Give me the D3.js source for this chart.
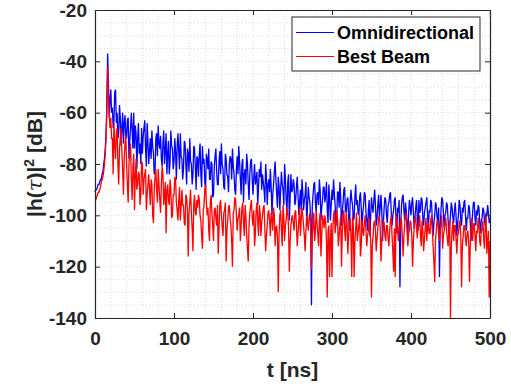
<!DOCTYPE html>
<html><head><meta charset="utf-8">
<script src="https://cdn.jsdelivr.net/npm/d3@7"></script>
<style>
html,body{margin:0;padding:0;background:#fff;}
svg{display:block;font-family:"Liberation Sans",Arial,Helvetica,sans-serif;}
</style></head>
<body>
<script>
// time step of the samples (ns), starting at 0
const tStep = 1;
const seriesNames = ["Omnidirectional", "Best Beam"];
const xTicks = [0, 100, 200, 300, 400, 500];
const yTicks = [-140, -120, -100, -80, -60, -40, -20];

// |h(tau)|^2 in dB, Omnidirectional (one row = 10 ns)
const omni = [
 -91,-90,-90,-89,-88,-88,-87,-86,-86,-84,
 -83,-80,-78,-74,-68,-56,-37,-48,-62,-55,
 -51,-60,-58,-66,-63,-52,-51,-64,-60,-70,
 -68,-57,-62,-73,-66,-60,-72,-64,-61,-69,
 -70,-63,-62,-78,-71,-66,-60,-67,-74,-60,
 -74,-65,-68,-82,-70,-64,-76,-72,-80,-66,
 -76,-69,-66,-63,-74,-81,-64,-71,-80,-75,
 -70,-78,-67,-73,-76,-84,-83,-70,-68,-77,
 -65,-72,-74,-69,-78,-81,-72,-67,-80,-75,
 -68,-84,-76,-71,-84,-79,-67,-73,-74,-82,
 -79,-70,-75,-86,-73,-68,-75,-82,-68,-77,
 -78,-86,-82,-71,-72,-80,-88,-74,-76,-83,
 -70,-79,-80,-88,-84,-73,-74,-81,-90,-77,
 -78,-85,-76,-72,-84,-89,-73,-80,-78,-87,
 -90,-76,-78,-82,-74,-86,-86,-79,-80,-93,
 -92,-81,-77,-74,-83,-88,-88,-79,-75,-84,
 -72,-80,-82,-89,-90,-76,-78,-84,-85,-91,
 -80,-77,-78,-86,-74,-81,-84,-90,-92,-82,
 -77,-84,-73,-79,-86,-92,-80,-78,-95,-84,
 -82,-88,-76,-80,-88,-94,-84,-79,-78,-86,
 -92,-85,-80,-88,-86,-83,-96,-89,-82,-85,
 -79,-90,-84,-87,-90,-95,-80,-85,-96,-88,
 -86,-91,-82,-89,-100,-92,-88,-83,-79,-86,
 -92,-97,-85,-89,-98,-90,-83,-88,-90,-96,
 -80,-86,-94,-99,-87,-84,-102,-93,-84,-91,
 -90,-86,-88,-96,-94,-89,-85,-92,-100,-95,
 -90,-98,-86,-91,-98,-94,-92,-87,-104,-96,
 -89,-93,-95,-101,-135,-97,-92,-88,-87,-95,
 -99,-92,-91,-96,-86,-90,-102,-97,-94,-89,
 -89,-95,-92,-87,-98,-103,-88,-93,-102,-96,
 -90,-94,-86,-92,-96,-104,-100,-91,-91,-97,
 -87,-93,-104,-99,-95,-90,-89,-98,-99,-94,
 -93,-100,-106,-95,-90,-94,-96,-102,-101,-93,
 -88,-96,-94,-99,-100,-93,-91,-97,-105,-99,
 -96,-91,-92,-99,-102,-106,-98,-94,-108,-100,
 -93,-97,-99,-94,-90,-96,-104,-101,-96,-92,
 -101,-97,-92,-98,-110,-103,-97,-93,-94,-100,
 -103,-96,-95,-92,-91,-99,-104,-100,-98,-94,
 -93,-101,-107,-97,-99,-94,-128,-104,-96,-93,
 -92,-98,-102,-95,-98,-103,-108,-99,-94,-97,
 -100,-95,-93,-99,-105,-101,-97,-94,-101,-106,
 -94,-99,-98,-93,-94,-101,-104,-99,-97,-95,
 -93,-100,-106,-98,-99,-94,-95,-102,-108,-103,
 -100,-95,-96,-101,-103,-97,-124,-104,-98,-93,
 -94,-99,-105,-100,-99,-95,-96,-102,-109,-104,
 -100,-95,-97,-101,-103,-98,-95,-100,-108,-103,
 -100,-94,-96,-102,-104,-97,-99,-95,-94,-100,
 -106,-101,-101,-96,-97,-103,-110,-104,-99,-95,
 -95,-101,-104,-98,-100,-96,-97,-103,-107,-102,
 -101,-97,-98,-102,-104,-99,-100,-96,-99,-103,
 -101
];

// |h(tau)|^2 in dB, Best Beam (one row = 10 ns)
const best = [
 -94,-94,-93,-92,-91,-91,-90,-89,-87,-86,
 -85,-83,-80,-76,-70,-60,-42,-55,-60,-66,
 -62,-70,-70,-84,-64,-72,-78,-68,-66,-80,
 -88,-74,-70,-66,-75,-82,-92,-78,-72,-69,
 -80,-88,-95,-80,-76,-72,-86,-94,-82,-76,
 -98,-85,-78,-90,-88,-83,-84,-96,-92,-79,
 -80,-92,-86,-84,-82,-98,-92,-88,-84,-90,
 -96,-86,-88,-100,-103,-90,-85,-82,-90,-95,
 -82,-88,-94,-99,-88,-81,-84,-96,-92,-87,
 -107,-90,-88,-94,-96,-86,-90,-101,-100,-92,
 -92,-85,-86,-95,-98,-102,-94,-89,-102,-97,
 -90,-96,-96,-103,-104,-92,-93,-98,-116,-99,
 -95,-90,-99,-105,-114,-96,-92,-99,-100,-94,
 -97,-92,-94,-100,-102,-108,-113,-98,-96,-90,
 -88,-95,-100,-97,-106,-110,-95,-92,-99,-104,
 -110,-98,-97,-101,-104,-96,-115,-105,-96,-94,
 -100,-104,-108,-99,-98,-95,-118,-106,-102,-97,
 -96,-101,-104,-110,-120,-99,-98,-93,-94,-100,
 -106,-101,-100,-97,-110,-104,-97,-95,-103,-108,
 -96,-100,-108,-113,-118,-104,-99,-96,-94,-101,
 -104,-98,-112,-107,-98,-95,-102,-108,-96,-99,
 -108,-103,-100,-97,-96,-105,-114,-108,-104,-99,
 -98,-102,-108,-99,-101,-106,-97,-100,-112,-105,
 -104,-109,-130,-107,-100,-98,-106,-112,-96,-101,
 -110,-104,-102,-97,-99,-105,-122,-110,-104,-101,
 -100,-103,-106,-99,-98,-104,-112,-107,-102,-97,
 -108,-102,-97,-100,-104,-108,-114,-106,-100,-103,
 -106,-101,-99,-104,-121,-108,-104,-99,-110,-106,
 -98,-103,-107,-112,-102,-99,-116,-108,-100,-102,
 -105,-100,-102,-110,-132,-106,-104,-124,-110,-103,
 -124,-106,-100,-98,-107,-103,-98,-101,-112,-108,
 -104,-100,-120,-107,-101,-98,-106,-110,-99,-103,
 -115,-108,-103,-101,-108,-124,-100,-104,-124,-110,
 -105,-99,-110,-107,-104,-100,-116,-112,-102,-106,
 -108,-103,-100,-106,-112,-108,-106,-101,-104,-110,
 -132,-112,-108,-103,-102,-106,-114,-109,-105,-101,
 -100,-105,-118,-110,-106,-102,-103,-108,-110,-104,
 -104,-109,-112,-106,-102,-100,-108,-114,-122,-105,
 -124,-102,-100,-106,-110,-104,-106,-101,-102,-108,
 -116,-108,-104,-99,-100,-106,-112,-107,-106,-102,
 -103,-108,-120,-110,-105,-101,-101,-105,-109,-104,
 -104,-100,-108,-112,-102,-106,-114,-109,-105,-101,
 -110,-104,-103,-107,-107,-102,-100,-106,-112,-118,
 -126,-110,-106,-102,-102,-108,-110,-105,-104,-100,
 -113,-108,-106,-103,-101,-106,-109,-112,-105,-102,
 -140,-112,-106,-102,-110,-104,-104,-109,-115,-108,
 -107,-103,-102,-108,-128,-112,-108,-104,-104,-109,
 -112,-107,-106,-110,-126,-112,-105,-101,-110,-104,
 -103,-108,-114,-106,-107,-101,-104,-110,-112,-105,
 -106,-102,-109,-113,-104,-100,-115,-110,-106,-132,
 -110
];

const W = 511, H = 386;
const M = {left: 95, right: 21, top: 10, bottom: 68};
const pw = W - M.left - M.right, ph = H - M.top - M.bottom;

const svg = d3.select("body").append("svg").attr("width", W).attr("height", H);
const g = svg.append("g").attr("transform", `translate(${M.left},${M.top})`);

const x = d3.scaleLinear().domain([0, 500]).range([0, pw]);
const y = d3.scaleLinear().domain([-140, -20]).range([ph, 0]);

// grid (minor + major), dotted
const minorX = d3.range(0, 501, 20), minorY = d3.range(-140, -19, 5);
const grid = g.append("g");
grid.selectAll("line.mx").data(minorX).join("line")
  .attr("x1", d => x(d)).attr("x2", d => x(d)).attr("y1", 0).attr("y2", ph)
  .attr("stroke", "#dcdcdc").attr("stroke-width", 1).attr("stroke-dasharray", "1,2");
grid.selectAll("line.my").data(minorY).join("line")
  .attr("y1", d => y(d)).attr("y2", d => y(d)).attr("x1", 0).attr("x2", pw)
  .attr("stroke", "#dcdcdc").attr("stroke-width", 1).attr("stroke-dasharray", "1,2");

// data lines
const line = d3.line().x((d, i) => x(i * tStep)).y(d => y(Math.max(d, -140)));
g.append("path").datum(omni).attr("d", line).attr("fill", "none")
  .attr("stroke", "#0000ff").attr("stroke-width", 1.3).attr("stroke-linejoin", "miter");
g.append("path").datum(best).attr("d", line).attr("fill", "none")
  .attr("stroke", "#ff0000").attr("stroke-width", 1.3).attr("stroke-linejoin", "miter");

// axes
const fs = "19px";
const ax = g.append("g").attr("transform", `translate(0,${ph})`)
  .call(d3.axisBottom(x).tickValues(xTicks).tickSize(-5).tickPadding(14).tickSizeOuter(0));
const ay = g.append("g")
  .call(d3.axisLeft(y).tickValues(yTicks).tickSize(-5).tickPadding(8).tickSizeOuter(0).tickFormat(d => String(d)));
const axT = g.append("g")
  .call(d3.axisTop(x).tickValues(xTicks).tickSize(-5).tickFormat("").tickSizeOuter(0));
const ayR = g.append("g").attr("transform", `translate(${pw},0)`)
  .call(d3.axisRight(y).tickValues(yTicks).tickSize(-5).tickFormat("").tickSizeOuter(0));
[ax, ay, axT, ayR].forEach(a => {
  a.select(".domain").attr("stroke", "#262626").attr("stroke-width", 1.2);
  a.selectAll(".tick line").attr("stroke", "#262626");
  a.selectAll(".tick text").attr("fill", "#262626").attr("font-size", fs)
    .attr("font-weight", "bold").attr("font-family", "Liberation Sans, Arial, sans-serif");
});

// axis labels
svg.append("text").attr("x", M.left + pw / 2).attr("y", 377).attr("text-anchor", "middle")
  .attr("font-size", "21px").attr("font-weight", "bold").attr("fill", "#262626").text("t [ns]");
const yl = svg.append("text").attr("transform", `translate(42,${M.top + ph / 2}) rotate(-90)`)
  .attr("text-anchor", "middle").attr("font-size", "21px").attr("font-weight", "bold").attr("fill", "#262626");
yl.append("tspan").text("|h(");
yl.append("tspan").attr("font-style", "italic").attr("font-weight", "normal").attr("font-family", "DejaVu Serif, serif").text("τ");
yl.append("tspan").text(")|");
yl.append("tspan").attr("font-size", "14px").attr("dy", "-8").text("2");
yl.append("tspan").attr("dy", "8").text(" [dB]");

// legend
const lg = svg.append("g").attr("transform", "translate(292,17)");
lg.append("rect").attr("width", 188).attr("height", 54).attr("fill", "#fff")
  .attr("stroke", "#262626").attr("stroke-width", 1);
const colors = ["#0000ff", "#ff0000"];
seriesNames.forEach((n, i) => {
  const yy = 15.5 + i * 24;
  lg.append("line").attr("x1", 4).attr("x2", 42).attr("y1", yy).attr("y2", yy)
    .attr("stroke", colors[i]).attr("stroke-width", 1);
  lg.append("text").attr("x", 45).attr("y", yy + 6.5).attr("font-size", "18px")
    .attr("font-weight", "bold").attr("fill", "#000").text(n);
});
</script>
</body></html>
